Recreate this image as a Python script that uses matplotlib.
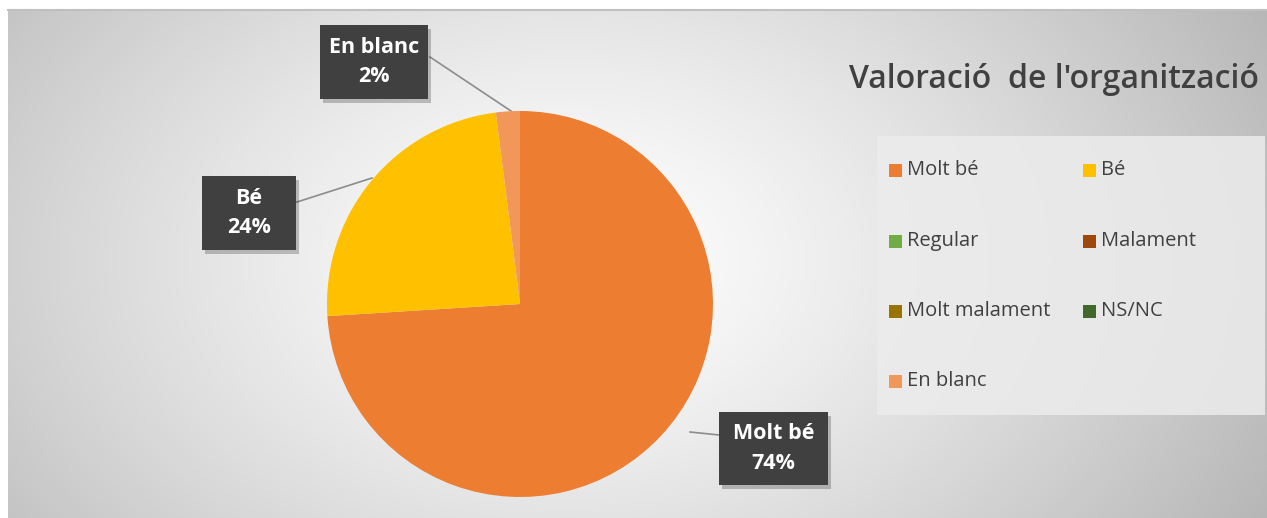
import numpy as np
import matplotlib.pyplot as plt
from matplotlib.patches import Rectangle

plt.rcParams['font.family'] = ['Open Sans', 'DejaVu Sans']

# dades
categories = ['Molt bé', 'Bé', 'Regular', 'Malament', 'Molt malament', 'NS/NC', 'En blanc']
percentatges = [74, 24, 0, 0, 0, 0, 2]
colors = ['#ED7D31', '#FFC000', '#70AD47', '#9E480E', '#997300', '#43682B', '#F1975A']
titol = "Valoració  de l'organització"

W, H = 1267, 518
fig = plt.figure(figsize=(W / 100, H / 100), dpi=100)
ax = fig.add_axes([0, 0, 1, 1])

# fons amb degradat radial
x0 = 8
yy, xx = np.mgrid[0:H - 10, 0:W - x0]
d = np.sqrt(((xx - 560) / 760.0) ** 2 + ((yy - 250) / 520.0) ** 2)
g = np.clip(1.0 - 0.27 * d ** 1.3, 0, 1)
img = np.dstack([g, g, g])
ax.imshow(img, extent=[x0, W, 0, H - 10], origin='upper', zorder=0, aspect='auto')
ax.plot([x0, W], [H - 10, H - 10], color='#c0c0c0', lw=1.5, zorder=1)

# pastís
wedges, _ = ax.pie(percentatges, colors=colors, startangle=90, counterclock=False,
                   radius=193, center=(520, H - 304), frame=True,
                   wedgeprops=dict(linewidth=0))
for w in wedges:
    w.set_zorder(3)
ax.set_xlim(0, W)
ax.set_ylim(0, H)
ax.set_aspect('equal')
ax.axis('off')

# etiquetes
etiquetes = [('Molt bé', 74, (719, 412, 109, 73), [(690, 432), (719, 435)]),
             ('Bé', 24, (202, 176, 94, 74), [(372, 178), (297, 202)]),
             ('En blanc', 2, (320, 25, 108, 74), [(511, 111), (430, 57)])]
for nom, val, (bx, by, bw, bh), linia in etiquetes:
    xs = [p[0] for p in linia]
    ys = [H - p[1] for p in linia]
    ax.plot(xs, ys, color='#8c8c8c', lw=1.2, zorder=2)
    ax.add_patch(Rectangle((bx + 3, H - by - bh - 4), bw, bh, color='#000000',
                           alpha=0.22, zorder=4, lw=0))
    ax.add_patch(Rectangle((bx, H - by - bh), bw, bh, color='#404040', zorder=5, lw=0))
    ax.text(bx + bw / 2, H - by - bh / 2, f'{nom}\n{val}%', ha='center', va='center',
            color='white', fontsize=15.5, fontweight='bold', linespacing=1.55, zorder=6)

# títol
ax.text(1054, H - 80, titol, ha='center', va='center', fontsize=23,
        color='#404040', fontweight='semibold', zorder=6)

# llegenda
ax.add_patch(Rectangle((877, H - 415), 388, 279, color='#ececec', alpha=0.85, zorder=2, lw=0))
cols = [889, 1083]
files = [170, 241, 311, 381]
for i, (c, col) in enumerate(zip(categories, colors)):
    lx = cols[i % 2]
    ly = H - files[i // 2]
    ax.add_patch(Rectangle((lx, ly - 7), 13, 13, color=col, zorder=6, lw=0))
    ax.text(lx + 18, ly, c, ha='left', va='center', fontsize=14.5, color='#404040', zorder=6)

fig.savefig('out.png', dpi=100)
